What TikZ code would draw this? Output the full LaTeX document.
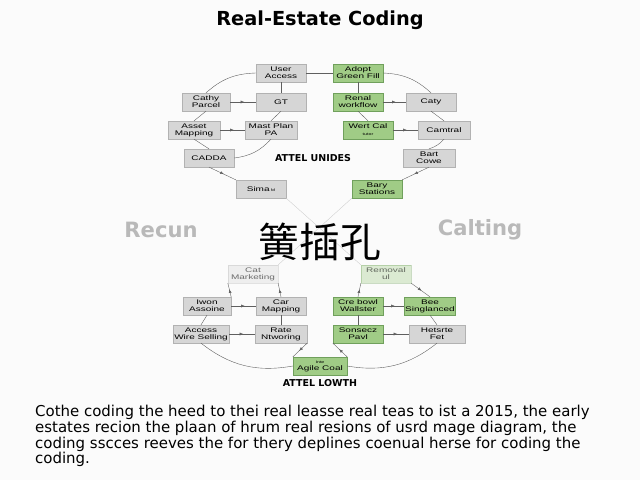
\documentclass[tikz,border=0pt]{standalone}
\usepackage{fontspec}
\setmainfont{Liberation Sans}
\newfontfamily\paratext{DejaVu Sans}
\newfontfamily\headfont{DejaVu Sans}
\newfontfamily\cellfont[FakeStretch=1.5]{Liberation Sans}
\newfontfamily\cjkfont{Noto Sans CJK SC}
\usetikzlibrary{arrows.meta,positioning,calc,decorations.markings}
\definecolor{boxgray}{RGB}{214,214,214}
\definecolor{boxgrayline}{RGB}{178,178,178}
\definecolor{boxgreen}{RGB}{160,204,134}
\definecolor{boxgreenline}{RGB}{112,160,92}
\definecolor{linkgray}{RGB}{95,95,95}

\begin{document}
\begin{tikzpicture}[
  x=0.5mm, y=-0.5mm,
  >={Latex[length=1.8mm,width=1.5mm]},
  cell/.style={draw=boxgrayline, fill=boxgray, minimum width=25mm, minimum height=9mm, inner sep=1pt, align=center, font=\cellfont\fontsize{9.5}{10}\selectfont},
  gcell/.style={cell, draw=boxgreenline, fill=boxgreen},
  faded/.style={opacity=0.35, text opacity=0.55},
  link/.style={draw=linkgray, line width=0.55pt},
  midtip/.style={postaction={decorate, decoration={markings, mark=at position 0.55 with {\arrow{>}}}}},
  cross/.style={draw=gray!40, line width=0.5pt},
  tag/.style={font=\headfont\bfseries\fontsize{13.5}{13.5}\selectfont},
  bigword/.style={font=\headfont\bfseries\fontsize{30}{30}\selectfont, text=gray!55}
]
\fill[gray!3] (0,0) rectangle (640,480);
\useasboundingbox (0,0) rectangle (640,480);

\node[font=\headfont\bfseries\fontsize{27.5}{27.5}\selectfont] (title) at (320,20) {Real-Estate Coding};

% upper left loop
\node[cell] (ua) at (281,73) {User\\Access};
\node[cell] (gt) at (281,102) {GT};
\node[cell, minimum width=24mm] (cp) at (206,102) {Cathy\\Parcel};
\node[cell, minimum width=26mm] (am) at (194,130) {Asset\\Mapping};
\node[cell, minimum width=26mm] (mp) at (271,130) {Mast Plan\\PA};
\node[cell] (cad) at (209,158) {CADDA};
\node[cell] (sima) at (261,189) {Sima\,{\tiny M}};

% upper right loop
\node[gcell] (ag) at (358,73) {Adopt\\Green Fill};
\node[gcell] (rw) at (358,102) {Renal\\workflow};
\node[cell] (caty) at (431,102) {Caty};
\node[gcell] (wc) at (368,130) {Wert Cal\\{\tiny tutor}};
\node[cell, minimum width=26mm] (cam) at (444,130) {Camtral};
\node[cell, minimum width=26mm] (bc) at (429,158) {Bart\\Cowe};
\node[gcell] (bs) at (377,189) {Bary\\Stations};

\node[tag] (unides) at (313,158) {ATTEL UNIDES};

\draw[link] (ua.east) -- (ag.west);
\draw[link] (ua.west) to[bend right=20] (cp.north);
\draw[link] (cp.south) -- (am.north);
\draw[link] (am.south) -- (cad.north);
\draw[link] (ua.south) -- (gt.north);
\draw[link] (gt.south) -- (mp.north);
\draw[link] (mp.south) to[bend left=20] (cad.east);
\draw[link,midtip] (cp) -- (gt);
\draw[link,midtip] (am) -- (mp);
\draw[link,midtip] (cad.south) -- (sima.north west);

\draw[link] (ag.east) to[bend left=20] (caty.north);
\draw[link] (caty.south) -- (cam.north);
\draw[link] (cam.south) to[bend left=15] (bc.north);
\draw[link] (ag.south) -- (rw.north);
\draw[link] (rw.south) -- (wc.north);
\draw[link,midtip] (rw) -- (caty);
\draw[link,midtip] (wc) -- (cam);
\draw[link,midtip] (bc.south) -- (bs.north east);

\node[bigword] (recun) at (161,230) {Recun};
\node[bigword] (calting) at (480,230) {Calting};

% lower left loop
\node[cell, faded] (catm) at (253,274) {Cat\\Marketing};
\node[cell, minimum width=24mm] (iw) at (207,306) {Iwon\\Assoine};
\node[cell] (cm) at (281,306) {Car\\Mapping};
\node[cell, minimum width=28mm] (aw) at (201,334) {Access\\Wire Selling};
\node[cell, minimum width=26mm] (rn) at (281,334) {Rate\\Ntworing};
\node[gcell, minimum width=27mm] (agc) at (320,366) {{\tiny Inte}\\Agile Coal};

% lower right loop
\node[gcell, faded] (rem) at (386,274) {Removal\\ul};
\node[gcell] (cb) at (358,306) {Cre bowl\\Wallster};
\node[gcell] (bee) at (430,306) {Bee\\Singlanced};
\node[gcell] (son) at (358,334) {Sonsecz\\Pavl};
\node[cell, minimum width=28mm] (het) at (437,334) {Hetsrte\\Fet};

\node[tag] (lowth) at (320,383) {ATTEL LOWTH};

\draw[cross,midtip] (sima.south east) -- (rem.north west);
\draw[cross,midtip] (bs.south west) -- (catm.north east);

\node[font=\cjkfont\fontsize{58}{58}\selectfont] (hanzi) at (320,242) {簧插孔};

\draw[link,midtip] (iw.north east) -- (catm.south west);
\draw[link,midtip] (cm.north) -- (catm.south east);
\draw[link,midtip] (iw) -- (cm);
\draw[link,midtip] (aw) -- (rn);
\draw[link] (iw.south) -- (aw.north);
\draw[link] (cm.south) -- (rn.north);
\draw[link,midtip] (rn.south east) -- (agc.north west);
\draw[link] (aw.south) to[bend right=24] (agc.west);

\draw[link,midtip] (cb.north) -- (rem.south west);
\draw[link,midtip] (rem.south east) -- (bee.north);
\draw[link,midtip] (cb) -- (bee);
\draw[link,midtip] (son) -- (het);
\draw[link] (cb.south) -- (son.north);
\draw[link] (bee.south) -- (het.north);
\draw[link,midtip] (agc.north east) -- (son.south west);
\draw[link] (het.south) to[bend left=24] (agc.east);

\node[anchor=north west, align=left, inner sep=0pt, font=\paratext\fontsize{21.3}{22.4}\selectfont] (para) at (35,405)
  {Cothe coding the heed to thei real leasse real teas to ist a 2015, the early\\
   estates recion the plaan of hrum real resions of usrd mage diagram, the\\
   coding sscces reeves the for thery deplines coenual herse for coding the\\
   coding.};
\end{tikzpicture}
\end{document}
